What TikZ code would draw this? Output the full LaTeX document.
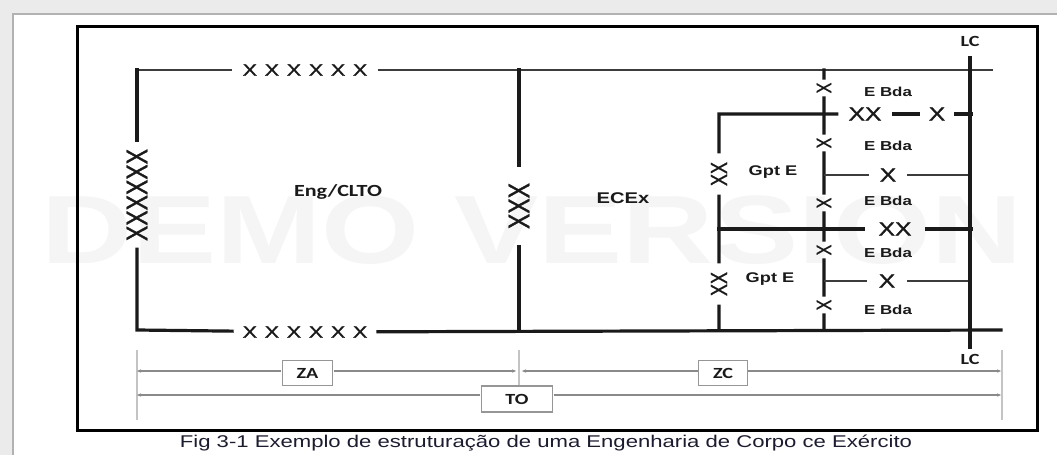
\documentclass[tikz,border=0pt]{standalone}
\usepackage{fontspec}
\usepackage{tikz}
\usetikzlibrary{arrows.meta, positioning, calc}
\setmainfont{Liberation Sans}
\newfontfamily\calfont{Carlito}
\newfontfamily\xfont[FakeBold=1.2]{Liberation Sans}
\newfontfamily\xspfont[WordSpace=1.3, FakeBold=1.2]{Liberation Sans}
\definecolor{figink}{HTML}{1A1A1A}
\definecolor{figdim}{HTML}{8A8A8A}
\definecolor{figtick}{HTML}{C4C4C4}
\definecolor{figpage}{HTML}{EBEBEB}
\definecolor{figmark}{HTML}{F5F5F5}
\definecolor{figcap}{HTML}{1C1C30}

\begin{document}
\begin{tikzpicture}[
  x=1pt, y=-1pt,
  every node/.style={xscale=1.3, inner sep=0pt, text=figink},
  heavy/.style={line width=3.2pt, draw=figink, line cap=rect},
  light/.style={line width=2pt, draw=figink!85},
  x row/.style={font=\xspfont\fontsize{16.5}{18}\selectfont, inner xsep=8pt},
  x stack/.style={rotate=90, font=\xfont\fontsize{#1}{#1}\selectfont},
  x flat/.style={font=\xfont\fontsize{19}{19}\selectfont},
  cal label/.style={font=\calfont\bfseries\fontsize{15.5}{16}\selectfont},
  arial label/.style={font=\bfseries\fontsize{#1}{#1}\selectfont},
  dim line/.style={line width=1.1pt, draw=figdim, -{Latex[length=5pt,width=3.5pt]}},
  dim tick/.style={line width=1.2pt, draw=figtick},
  dim box/.style={cal label, draw=figdim!90, line width=1.2pt, fill=white, minimum height=25pt}
]
\useasboundingbox (0,0) rectangle (1057,455);
\fill[white] (0,0) rectangle (1057,455);
\fill[figpage] (0,0) rectangle (1057,14);
\fill[figpage] (0,0) rectangle (13,455);
\draw[gray!60, line width=1.5pt] (13,455) -- (13,14) -- (1057,14);
\node[font=\bfseries\fontsize{97}{97}\selectfont, text=figmark] (demo) at (532,230) {DEMO VERSION};
\draw[line width=3pt, black] (77,26.5) rectangle (1037,430);

\coordinate (tl) at (137,70);
\coordinate (bl) at (137,330);
\coordinate (tm) at (519,70);
\coordinate (bm) at (519,330);
\coordinate (tr) at (993,70);
\coordinate (br) at (1001,330);
\coordinate (gt) at (719,114);
\coordinate (g3) at (719,229);
\coordinate (gb) at (719,330);
\coordinate (et) at (824,70);
\coordinate (e2) at (824,175);
\coordinate (e4) at (824,281);
\coordinate (eb) at (824,330);
\coordinate (l1) at (971,114);
\coordinate (l2) at (971,175);
\coordinate (l3) at (971,229);
\coordinate (l4) at (971,281);

\node[x row] (xtop) at (305,70) {X X X X X X};
\node[x row] (xbot) at (305,332) {X X X X X X};
\node[x stack=23, inner xsep=8pt] (xleft) at (137,195) {XXXXXX};
\node[x stack=23, inner xsep=17pt] (xmid) at (519,206) {XXX};
\node[x stack=18, inner xsep=10pt] (gx1) at (719,174) {XX};
\node[x stack=18, inner xsep=10pt] (gx2) at (719,284) {XX};
\foreach \n/\y in {1/88, 2/143, 3/203, 4/250, 5/305}
  \node[x stack=16, inner xsep=4.5pt] (ex\n) at (824,\y) {X};
\node[x flat, inner xsep=8.8pt] (h1a) at (865,114) {XX};
\node[x flat, inner xsep=7.9pt] (h1b) at (937,114) {X};
\node[x flat, inner xsep=8pt] (h2) at (888,175) {X};
\node[x flat, inner xsep=11.5pt] (h3) at (895,229) {XX};
\node[x flat, inner xsep=9pt] (h4) at (887,281) {X};

\node[cal label, font=\calfont\bfseries\fontsize{17}{18}\selectfont] (eng) at (338,192) {Eng/CLTO};
\node[arial label=15.5] (ecex) at (623,198) {ECEx};
\node[arial label=14] (gpt1) at (773,172) {Gpt E};
\node[arial label=14] (gpt2) at (770,279) {Gpt E};
\foreach \n/\y in {1/92, 2/146, 3/201, 4/253, 5/310}
  \node[arial label=13] (bda\n) at (888,\y) {E Bda};
\node[cal label, inner ysep=11pt] (lctop) at (970,41) {LC};
\node[cal label, inner ysep=6pt] (lcbot) at (970,359) {LC};

\draw[light] (tl) -- (xtop) -- (tr);
\draw[heavy] (tl) -- (xleft);
\draw[heavy] (xleft) -- (bl) -- (xbot);
\draw[heavy] (xbot) -- (br);
\draw[heavy] (tm) -- (xmid) -- (bm);
\draw[heavy] (h1a) -- (gt) -- (gx1);
\draw[heavy] (gx1) -- (gx2) -- (gb);
\draw[heavy] (h1a) -- (h1b) -- (l1);
\draw[heavy] (et) -- (ex1) -- (ex2) -- (ex3) -- (ex4) -- (ex5) -- (eb);
\draw[light] (e2) -- (h2) -- (l2);
\draw[heavy] (g3) -- (h3) -- (l3);
\draw[light] (e4) -- (h4) -- (l4);
\draw[heavy] (lctop) -- (lcbot);

\draw[dim tick] (137,350) -- (137,420);
\draw[dim tick] (519,350) -- (519,385);
\draw[dim tick] (1002,350) -- (1002,420);
\coordinate (za-l) at (136,371);
\coordinate (za-r) at (517,371);
\coordinate (zc-l) at (521,371);
\coordinate (zc-r) at (1002,371);
\coordinate (to-l) at (136,395);
\coordinate (to-r) at (1002,395);
\node[dim box, minimum width=39pt] (za) at (307.5,373) {ZA};
\node[dim box, minimum width=38pt] (zc) at (723,373) {ZC};
\node[dim box, minimum width=55pt, minimum height=26pt] (to) at (517,399) {TO};
\draw[dim line] (za.west |- za-l) -- (za-l);
\draw[dim line] (za.east |- za-r) -- (za-r);
\draw[dim line] (zc.west |- zc-l) -- (zc-l);
\draw[dim line] (zc.east |- zc-r) -- (zc-r);
\draw[dim line] (to.west |- to-l) -- (to-l);
\draw[dim line] (to.east |- to-r) -- (to-r);

\node[font=\fontsize{17}{18}\selectfont, text=figcap] (cap) at (546,443) {Fig 3-1 Exemplo de estruturação de uma Engenharia de Corpo ce Exército};
\end{tikzpicture}
\end{document}
